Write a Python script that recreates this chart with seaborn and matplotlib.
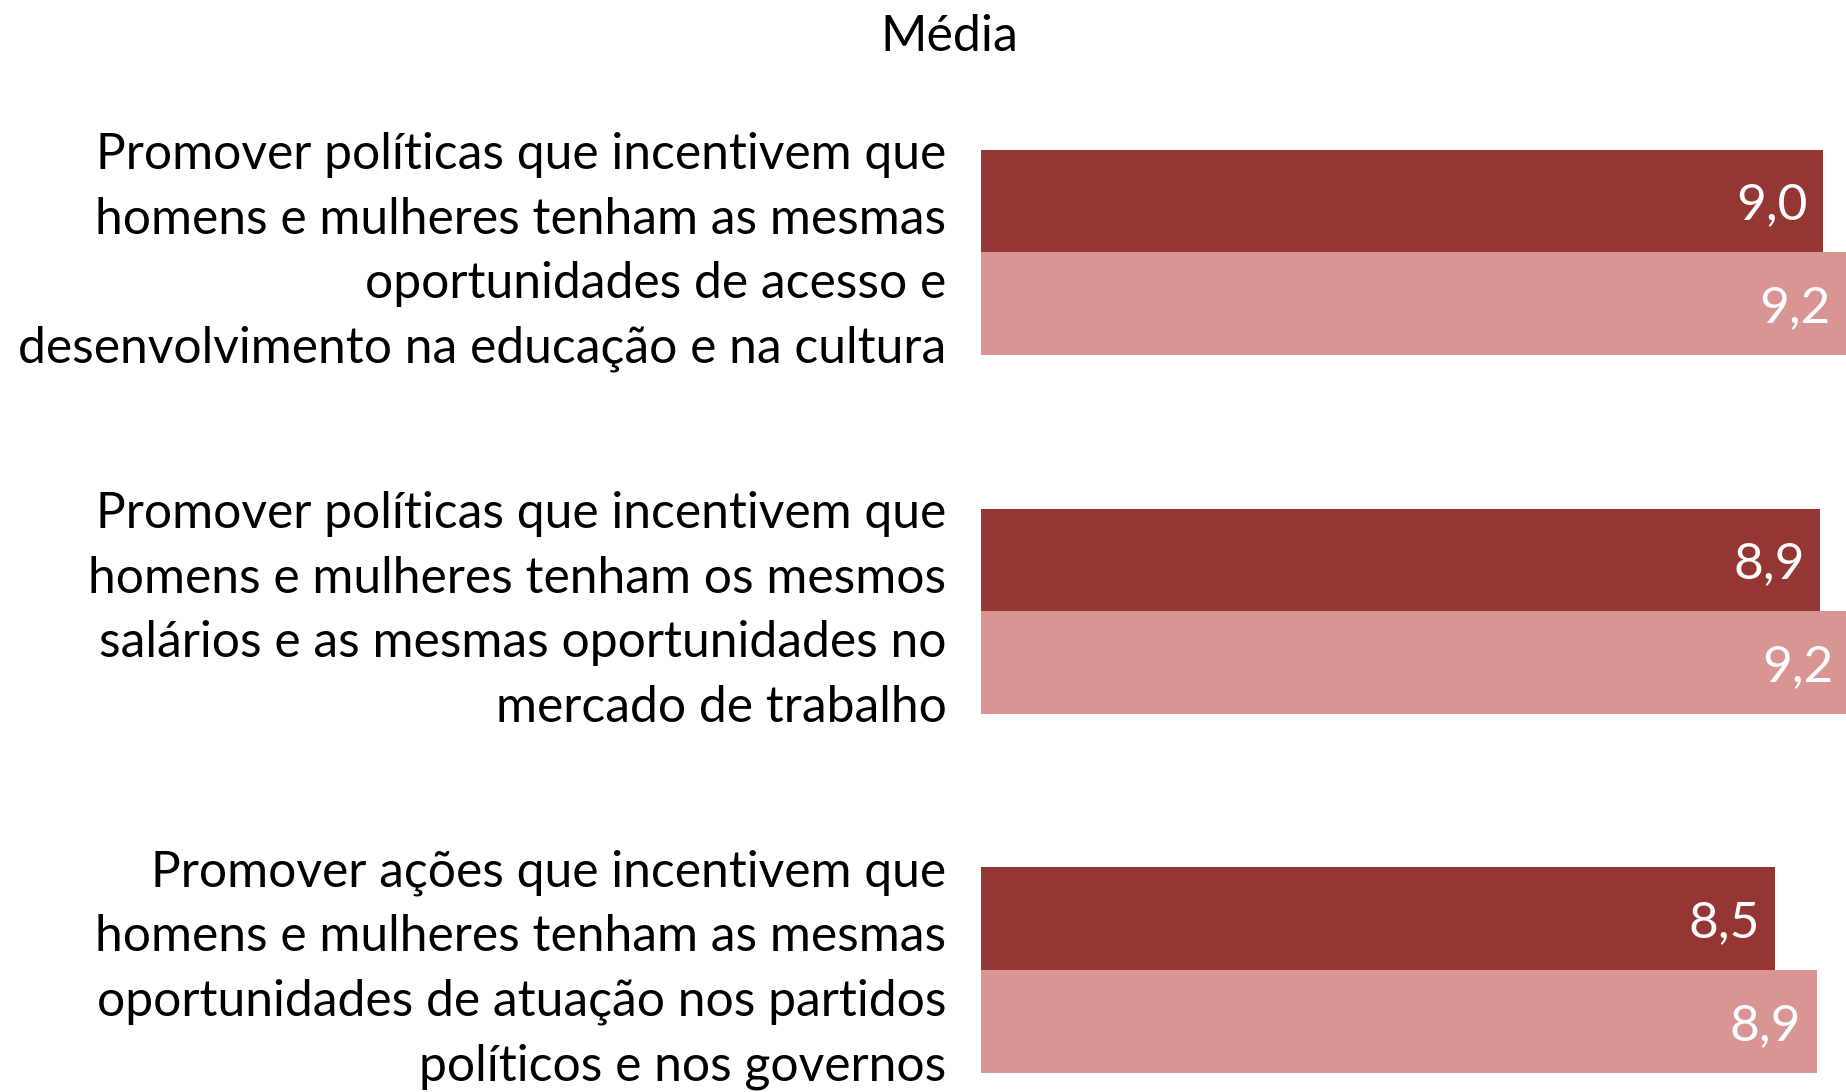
import matplotlib
matplotlib.use("Agg")
import matplotlib.pyplot as plt
import seaborn as sns
import pandas as pd

categories = [
    "Promover políticas que incentivem que\nhomens e mulheres tenham as mesmas\noportunidades de acesso e\ndesenvolvimento na educação e na cultura",
    "Promover políticas que incentivem que\nhomens e mulheres tenham os mesmos\nsalários e as mesmas oportunidades no\nmercado de trabalho",
    "Promover ações que incentivem que\nhomens e mulheres tenham as mesmas\noportunidades de atuação nos partidos\npolíticos e nos governos",
]
series_names = ["Série 1", "Série 2"]
series1_values = [8.97, 8.94, 8.46]
series2_values = [9.21, 9.24, 8.90]
colors = ["#943634", "#D99594"]
title = "Média"

rows = []
for cat, v1, v2 in zip(categories, series1_values, series2_values):
    rows.append({"cat": cat, "serie": series_names[0], "valor": v1})
    rows.append({"cat": cat, "serie": series_names[1], "valor": v2})
df = pd.DataFrame(rows)

sns.set_theme(style="white")
plt.rcParams["font.family"] = ["Lato", "DejaVu Sans"]

W, H = 1846, 1092
fig = plt.figure(figsize=(W / 100, H / 100), dpi=100)
left_px = 981.3
ax = fig.add_axes([left_px / W, 0, 1 - left_px / W, 1])

sns.barplot(data=df, y="cat", x="valor", hue="serie", orient="h",
            palette=colors, width=0.572, saturation=1, ax=ax, legend=False,
            edgecolor="none", linewidth=0)

px_per_unit = 93.85
ax.set_xlim(0, (W - left_px) / px_per_unit)
grp = 358.6
ax.set_ylim(2 + (H - 970) / grp, -252.3 / grp)

for c in ax.containers:
    for bar in c:
        w = bar.get_width()
        yc = bar.get_y() + bar.get_height() / 2
        ax.annotate(f"{w:.1f}".replace(".", ","), xy=(w, yc),
                    xytext=(-11.0, 0), textcoords="offset points",
                    ha="right", va="center_baseline", color="white", fontsize=37,
                    annotation_clip=False, clip_on=False)

ax.set_xlabel("")
ax.set_ylabel("")
ax.set_xticks([])
ax.tick_params(axis="y", length=0, pad=25, labelsize=35.8, labelcolor="black")
for lab in ax.get_yticklabels():
    lab.set_linespacing(1.50)
    lab.set_ha("right")
    lab.set_va("center")
for s in ax.spines.values():
    s.set_visible(False)

fig.text(949 / W, 1 - 37 / H, title, ha="center", va="center", fontsize=36, color="black")

fig.savefig("out.png", dpi=100)
